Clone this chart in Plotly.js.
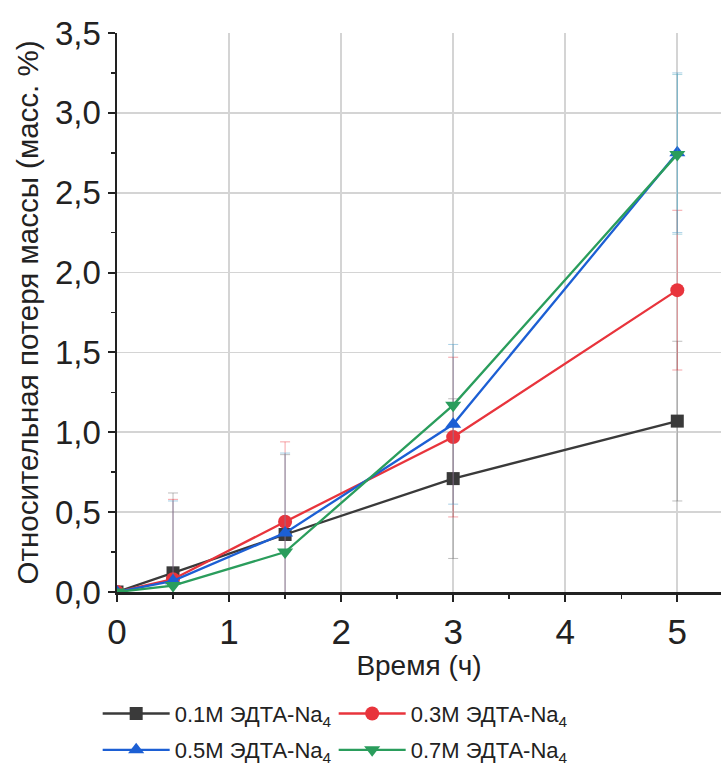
<!DOCTYPE html>
<html>
<head>
<meta charset="utf-8">
<script src="https://cdn.plot.ly/plotly-3.0.1.min.js"></script>
<style>html,body{margin:0;padding:0;background:#fff;}#chart{width:721px;height:771px;}</style>
</head>
<body>
<div id="chart"></div>
<script>
const timeH = [0, 0.5, 1.5, 3, 5];
const y01 = [0, 0.12, 0.36, 0.71, 1.07];
const y03 = [0, 0.08, 0.44, 0.97, 1.89];
const y05 = [0, 0.07, 0.37, 1.05, 2.75];
const y07 = [0, 0.04, 0.25, 1.17, 2.74];
const err01 = [0, 0.5, 0.5, 0.5, 0.5];
const err03 = [0, 0.5, 0.5, 0.5, 0.5];
const err05 = [0, 0.5, 0.5, 0.5, 0.5];
const err07 = [0, 0, 0, 0, 0.5];
const names = ["0.1M ЭДТА-Na<sub>4</sub>", "0.3M ЭДТА-Na<sub>4</sub>", "0.5M ЭДТА-Na<sub>4</sub>", "0.7M ЭДТА-Na<sub>4</sub>"];
const xTickVals = [0, 1, 2, 3, 4, 5];
const yTickVals = [0, 0.5, 1, 1.5, 2, 2.5, 3, 3.5];

const colors = ["#3a3a3a", "#e8343c", "#1c5fd4", "#2a9d5c"];
const errColors = ["rgba(110,110,110,0.45)", "rgba(232,52,60,0.45)", "rgba(80,160,205,0.5)", "rgba(80,170,190,0.45)"];
const symbols = ["square", "circle", "triangle-up", "triangle-down"];
const sizes = [13, 14, 14, 14];
const legendIds = ["legend", "legend", "legend2", "legend2"];
const ys = [y01, y03, y05, y07];
const errs = [err01, err03, err05, err07];

const traces = ys.map((y, i) => ({
  x: timeH, y: y, name: names[i], type: "scatter", mode: "lines+markers",
  legend: legendIds[i],
  line: {color: colors[i], width: 2.3},
  marker: {symbol: symbols[i], size: sizes[i], color: colors[i]},
  error_y: {type: "data", array: errs[i], visible: true, color: errColors[i], thickness: 1, width: 5}
}));

const legendStyle = {
  orientation: "h", x: -0.032, xanchor: "left", yanchor: "top",
  entrywidth: 154, entrywidthmode: "pixels", itemwidth: 67,
  font: {size: 22, color: "#222"}, tracegroupgap: 0, bgcolor: "rgba(0,0,0,0)"
};

const layout = {
  width: 721, height: 771,
  margin: {l: 117, r: 0, t: 33, b: 178},
  paper_bgcolor: "#fff", plot_bgcolor: "#fff",
  separators: ", ",
  font: {family: "Liberation Sans, Arial, sans-serif", color: "#222"},
  showlegend: true,
  xaxis: {
    range: [0, 5.39], tickvals: xTickVals, ticktext: xTickVals.map(String),
    showgrid: true, gridcolor: "#d4d4d4", gridwidth: 1.6,
    showline: true, linecolor: "#222", linewidth: 2.5,
    ticks: "outside", ticklen: 7, tickwidth: 2, tickcolor: "#222",
    minor: {dtick: 0.5, ticks: "outside", ticklen: 4, tickwidth: 1.5, tickcolor: "#222", showgrid: false},
    tickfont: {size: 35, color: "#222"},
    zeroline: false,
    title: {text: "Время (ч)", font: {size: 28, color: "#222"}, standoff: 6}
  },
  yaxis: {
    range: [0, 3.5], tickvals: yTickVals, tickformat: ".1f",
    showgrid: true, gridcolor: "#d4d4d4", gridwidth: 1.6,
    showline: true, linecolor: "#222", linewidth: 2.5,
    ticks: "outside", ticklen: 7, tickwidth: 2, tickcolor: "#222",
    minor: {dtick: 0.25, ticks: "outside", ticklen: 4, tickwidth: 1.5, tickcolor: "#222", showgrid: false},
    tickfont: {size: 33, color: "#222"},
    zeroline: false,
    title: {text: "Относительная потеря массы (масс. %)", font: {size: 29.5, color: "#222"}, standoff: 8}
  },
  legend: Object.assign({}, legendStyle, {y: -0.178}),
  legend2: Object.assign({}, legendStyle, {y: -0.244})
};

Plotly.newPlot("chart", traces, layout, {displayModeBar: false, staticPlot: true});
</script>
</body>
</html>
